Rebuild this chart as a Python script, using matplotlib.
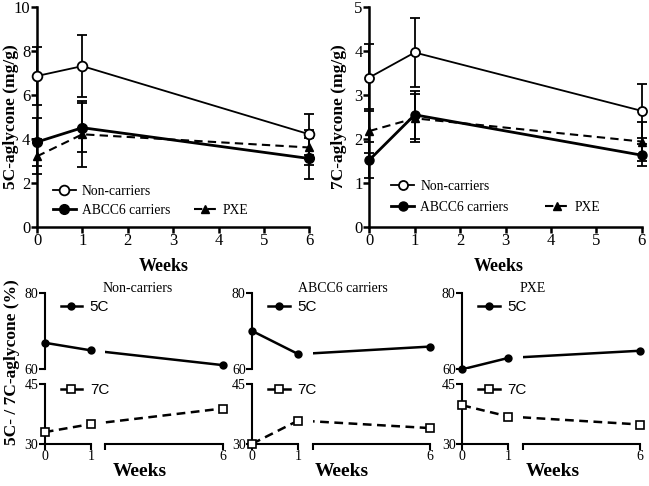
import numpy as np
import matplotlib
matplotlib.use('Agg')
import matplotlib.pyplot as plt
from matplotlib.lines import Line2D

plt.rcParams['font.family'] = ['Liberation Serif', 'DejaVu Serif']

# ---------------- data ----------------
weeks = np.array([0, 1, 6])
week_ticks = [0, 1, 2, 3, 4, 5, 6]

# 5C-aglycone (mg/g)
c5_non = [6.85, 7.3, 4.2]
c5_non_err = [1.3, 1.4, 0.93]
c5_abcc6 = [3.85, 4.5, 3.1]
c5_abcc6_err = [1.1, 1.1, 0.95]
c5_pxe = [3.2, 4.2, 3.6]
c5_pxe_err = [0.8, 1.5, 0.8]

# 7C-aglycone (mg/g)
c7_non = [3.4, 3.97, 2.64]
c7_non_err = [0.76, 0.78, 0.61]
c7_abcc6 = [1.52, 2.55, 1.63]
c7_abcc6_err = [0.4, 0.55, 0.25]
c7_pxe = [2.18, 2.47, 1.94]
c7_pxe_err = [0.5, 0.55, 0.45]

# 5C / 7C-aglycone (%)
groups = ['Non-carriers', 'ABCC6 carriers', 'PXE']
pct5 = {'Non-carriers': [67.0, 65.0, 61.1],
        'ABCC6 carriers': [70.1, 64.0, 66.0],
        'PXE': [60.0, 63.0, 64.9]}
pct7 = {'Non-carriers': [32.9, 34.9, 38.8],
        'ABCC6 carriers': [30.0, 35.8, 33.9],
        'PXE': [39.6, 36.8, 34.8]}

# ---------------- layout helpers ----------------
W, H = 649, 486
fig = plt.figure(figsize=(W / 100, H / 100), dpi=100)


def px_axes(x0, y_top, x1, y_bot):
    return fig.add_axes([x0 / W, 1 - y_bot / H, (x1 - x0) / W, (y_bot - y_top) / H])


def style_axes(ax, lw=1.6, size=12):
    for s in ['top', 'right']:
        ax.spines[s].set_visible(False)
    for s in ['left', 'bottom']:
        ax.spines[s].set_linewidth(lw)
    ax.tick_params(direction='out', length=4, width=lw, labelsize=size, pad=0.8)


def top_panel(ax, non, non_e, ab, ab_e, px, px_e, ylim, ylabel, msize, bbox, colsp, lsp):
    for vals, err in [(non, non_e), (ab, ab_e), (px, px_e)]:
        ax.errorbar(weeks, vals, yerr=err, fmt='none', ecolor='black', elinewidth=1.3,
                    capsize=3.8, capthick=1.3, clip_on=False, zorder=2)
    h_px, = ax.plot(weeks, px, ls=(0, (4, 2.5)), lw=1.5, color='black', marker='^',
                    ms=msize - 1, mfc='black', clip_on=False, zorder=3, label='PXE')
    h_ab, = ax.plot(weeks, ab, ls='-', lw=2.0, color='black', marker='o', ms=msize,
                    mfc='black', clip_on=False, zorder=4, label='ABCC6 carriers')
    h_non, = ax.plot(weeks, non, ls='-', lw=1.3, color='black', marker='o', ms=msize,
                     mfc='white', mew=1.3, clip_on=False, zorder=5, label='Non-carriers')
    ax.set_xlim(0, 6)
    ax.set_ylim(*ylim)
    ax.set_xticks(week_ticks)
    style_axes(ax, 1.8, 12)
    ax.set_ylabel(ylabel, fontsize=12.5, fontweight='bold')
    ax.set_xlabel('Weeks', fontsize=13, fontweight='bold')
    blank = Line2D([], [], color='none')
    ax.legend([h_non, h_ab, blank, h_px], ['Non-carriers', 'ABCC6 carriers', '', 'PXE'],
              ncol=2, loc='lower left', bbox_to_anchor=bbox, frameon=False,
              fontsize=9.8, handlelength=1.7, handletextpad=0.45, columnspacing=colsp,
              labelspacing=lsp, borderpad=0, borderaxespad=0)


ax1 = px_axes(37, 6.7, 309.3, 226.7)
top_panel(ax1, c5_non, c5_non_err, c5_abcc6, c5_abcc6_err, c5_pxe, c5_pxe_err,
          (0, 10), '5C-aglycone (mg/g)', 7, (0.058, 0.045), 1.7, 0.45)
ax1.set_yticks([0, 2, 4, 6, 8, 10])
ax1.yaxis.set_label_coords(-0.066, 0.5)
ax1.xaxis.set_label_coords(0.465, -0.142)

ax2 = px_axes(369.3, 7.3, 641.7, 226.7)
top_panel(ax2, c7_non, c7_non_err, c7_abcc6, c7_abcc6_err, c7_pxe, c7_pxe_err,
          (0, 5), '7C-aglycone (mg/g)', 6.5, (0.08, 0.06), 2.7, 0.55)
ax2.set_yticks([0, 1, 2, 3, 4, 5])
ax2.yaxis.set_label_coords(-0.082, 0.5)
ax2.xaxis.set_label_coords(0.475, -0.142)

# ---------------- bottom broken-axis panels ----------------
spine_x = [44.8, 252.3, 462.3]
title_x = [138, 343, 533]
weeks_x = [140, 341.5, 552.5]
wl, gap, wr = 46.0, 14.5, 117.5
upper = (293.5, 369.3)
lower = (383.7, 443.7)
k_right = (gap + wr) / (weeks[-1] - weeks[1])      # px per week on the right part
x_a = weeks[1] + gap / k_right                        # start of the right segment

for i, g in enumerate(groups):
    x0 = spine_x[i]
    axes = {}
    for part, (yt, yb), ylim in [('up', upper, (60, 80)), ('lo', lower, (30, 45))]:
        axl = px_axes(x0, yt, x0 + wl, yb)
        axr = px_axes(x0 + wl + gap, yt, x0 + wl + gap + wr, yb)
        axl.set_xlim(0, 1)
        axr.set_xlim(x_a, 6)
        for a in (axl, axr):
            a.set_ylim(*ylim)
            a.patch.set_visible(False)
            style_axes(a, 1.5, 10)
        axr.spines['left'].set_visible(False)
        axr.set_yticks([])
        axl.set_yticks(list(ylim))
        if part == 'up':
            for a in (axl, axr):
                a.spines['bottom'].set_visible(False)
                a.set_xticks([])
        else:
            axl.set_xticks([0, 1])
            axr.set_xticks([x_a, 6])
            axr.set_xticklabels(['', '6'])
        axes[part] = (axl, axr)

    for part, vals, mk, mfc, ls, ms, lab in [
            ('up', pct5[g], 'o', 'black', '-', 4.8, '5C'),
            ('lo', pct7[g], 's', 'white', (0, (3.5, 2.2)), 5.5, '7C')]:
        axl, axr = axes[part]
        for a, lo_x, hi_x in [(axl, 0, 1), (axr, x_a, 6)]:
            a.plot(weeks, vals, ls=ls, lw=1.8, color='black', zorder=2)
            m = (weeks >= lo_x) & (weeks <= hi_x)
            a.plot(weeks[m], np.array(vals)[m], ls='none', marker=mk, ms=ms,
                   mfc=mfc, mec='black', mew=1.2, clip_on=False, zorder=3)
        h = Line2D([], [], ls='-', lw=1.8, color='black', marker=mk, ms=ms,
                   mfc=mfc, mec='black', mew=1.2)
        ly = 307 if part == 'up' else 390.5
        axl.legend([h], [lab], loc='center left',
                   bbox_to_anchor=((x0 + 16) / W, 1 - ly / H),
                   bbox_transform=fig.transFigure, frameon=False,
                   prop={'family': 'Liberation Sans', 'size': 11},
                   handlelength=1.4, handletextpad=0.5, borderpad=0, borderaxespad=0)

    fig.text(title_x[i] / W, 1 - 288 / H, g, ha='center', va='center', fontsize=10)
    fig.text(weeks_x[i] / W, 1 - 471 / H, 'Weeks', ha='center', va='center',
             fontsize=14, fontweight='bold')

fig.text(12 / W, 1 - 362 / H, '5C- / 7C-aglycone (%)', rotation=90, ha='center',
         va='center', fontsize=12.5, fontweight='bold')

fig.savefig('out.png', dpi=100)
